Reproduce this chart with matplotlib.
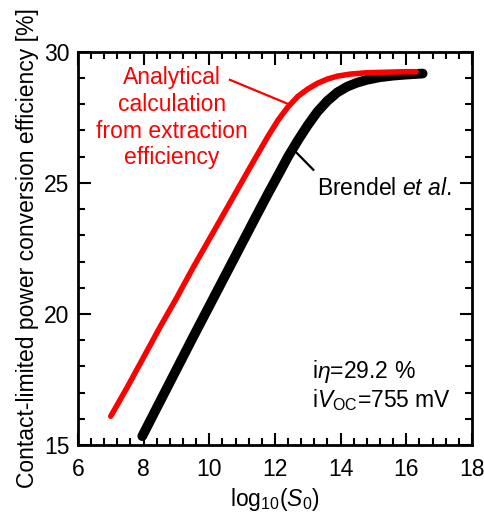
import matplotlib
matplotlib.use("Agg")
import matplotlib.pyplot as plt
from matplotlib.ticker import MultipleLocator

plt.rcParams['font.family'] = ['Liberation Sans', 'DejaVu Sans']
plt.rcParams['mathtext.fontset'] = 'custom'
plt.rcParams['mathtext.rm'] = 'Liberation Sans'
plt.rcParams['mathtext.it'] = 'Liberation Sans:italic'

# analytical calculation (red)
analytic_x = [7.0, 7.5, 8.0, 8.5, 9.0, 9.5, 10.0, 10.5, 10.84, 11.2, 11.5, 11.8, 12.1,
              12.4, 12.7, 13.0, 13.3, 13.6, 13.9, 14.3, 14.8, 15.4, 16.0, 16.3]
analytic_y = [16.1, 17.2, 18.35, 19.5, 20.6, 21.75, 22.85, 23.95, 24.7, 25.5, 26.15, 26.8, 27.4,
              27.9, 28.3, 28.58, 28.8, 28.96, 29.07, 29.15, 29.2, 29.22, 29.24, 29.24]

# Brendel et al. (black)
brendel_x = [7.96, 8.5, 9.0, 9.5, 10.0, 10.5, 11.0, 11.5, 11.8, 12.1, 12.4, 12.7, 13.0,
             13.3, 13.6, 13.9, 14.2, 14.5, 14.8, 15.2, 15.6, 16.0, 16.5]
brendel_y = [15.34, 16.66, 17.88, 19.1, 20.3, 21.5, 22.7, 23.9, 24.61, 25.3, 26.0, 26.62, 27.2,
             27.72, 28.13, 28.45, 28.67, 28.82, 28.93, 29.03, 29.09, 29.13, 29.17]

fig = plt.figure(figsize=(4.84, 5.23), dpi=100)
ax = fig.add_axes([0.161, 0.149, 0.814, 0.752])

ax.plot(brendel_x, brendel_y, color='black', lw=7, solid_capstyle='round',
        solid_joinstyle='round', zorder=3)
ax.plot(analytic_x, analytic_y, color='#ff0000', lw=4, solid_capstyle='round',
        solid_joinstyle='round', zorder=4)

# annotation leader lines
ax.plot([10.63, 12.46], [28.93, 27.98], color='#ff0000', lw=1.6, zorder=2)
ax.plot([12.62, 13.17], [26.2, 25.5], color='black', lw=1.6, zorder=2)

ax.text(8.87, 27.48, 'Analytical\ncalculation\nfrom extraction\nefficiency',
        color='#ff0000', fontsize=16.5, ha='center', va='center', linespacing=1.2)
ax.text(13.28, 24.8, r'Brendel $\it{et\ al.}$', fontsize=16.5, ha='left', va='center')
ax.text(13.12, 17.8, r'i$\it{\eta}$=29.2 %', fontsize=16.5, ha='left', va='center')
ax.text(13.12, 16.72, r'i$V_{\rm OC}$=755 mV', fontsize=16.5, ha='left', va='center')

ax.set_xlim(6, 18)
ax.set_ylim(15, 30)
ax.xaxis.set_major_locator(MultipleLocator(2))
ax.xaxis.set_minor_locator(MultipleLocator(0.4))
ax.yaxis.set_major_locator(MultipleLocator(5))
ax.yaxis.set_minor_locator(MultipleLocator(1))
ax.tick_params(which='both', direction='in', top=True, right=True, width=1.5,
               labelsize=16.5)
ax.tick_params(which='major', length=9)
ax.tick_params(which='minor', length=5)
ax.tick_params(axis='x', which='major', pad=9)
ax.tick_params(axis='y', which='major', pad=6)
for s in ax.spines.values():
    s.set_linewidth(2)

ax.set_xlabel(r'log$_{10}$($S_0$)', fontsize=16.5, labelpad=4)
ax.set_ylabel('Contact-limited power conversion efficiency [%]', fontsize=16.5, labelpad=4)

fig.savefig('out.png', dpi=100)
